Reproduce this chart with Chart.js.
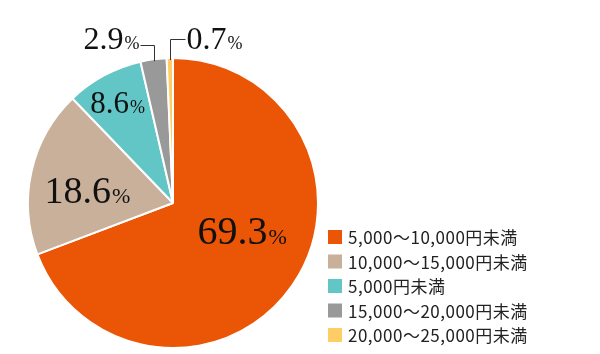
<!DOCTYPE html>
<html>
<head>
<meta charset="utf-8">
<script src="https://cdn.jsdelivr.net/npm/chart.js@4"></script>
<style>
  html, body { margin: 0; padding: 0; background: #fff; }
  #wrap { width: 600px; height: 354px; position: relative; }
</style>
</head>
<body>
<div id="wrap"><canvas id="chart"></canvas></div>
<script>
// data
const categories = ["5,000～10,000円未満", "10,000～15,000円未満", "5,000円未満", "15,000～20,000円未満", "20,000～25,000円未満"];
const shares = [69.3, 18.6, 8.6, 2.9, 0.7];
const colors = ["#EA5506", "#C8B09A", "#62C6C6", "#999999", "#FFCC66"];

// where the value labels go (angle in deg from +x, clockwise; dist as fraction of radius)
// callout labels sit above the pie with a bent leader line
const labelLayout = [
  { angle: 22, dist: 0.51, big: 40, small: 22 },
  { angle: 188.6, dist: 0.6, big: 38, small: 22 },
  { angle: 240.8, dist: 0.79, big: 31, small: 18 },
  { callout: "left", lineUp: 13, big: 32, small: 18 },
  { callout: "right", lineUp: 19, big: 32, small: 18 }
];

const serif = "'Liberation Serif', 'DejaVu Serif', serif";

const valueLabels = {
  id: "valueLabels",
  afterDatasetsDraw(chart) {
    const ctx = chart.ctx;
    const arcs = chart.getDatasetMeta(0).data;
    ctx.save();
    ctx.fillStyle = "#111";
    ctx.textBaseline = "alphabetic";
    arcs.forEach((arc, i) => {
      const lay = labelLayout[i];
      const num = shares[i].toFixed(1);
      ctx.font = lay.big + "px " + serif;
      const wNum = ctx.measureText(num).width;
      ctx.font = lay.small + "px " + serif;
      const wPct = ctx.measureText("%").width;
      const total = wNum + wPct;
      const r = arc.outerRadius;
      let x0, base;
      if (!lay.callout) {
        const a = lay.angle * Math.PI / 180;
        const cx = arc.x + Math.cos(a) * r * lay.dist;
        const cy = arc.y + Math.sin(a) * r * lay.dist;
        x0 = cx - total / 2;
        base = cy + lay.big * 0.33;
      } else {
        const mid = (arc.startAngle + arc.endAngle) / 2;
        const px = arc.x + Math.cos(mid) * (r - 2);
        const py = arc.y + Math.sin(mid) * (r - 2);
        const top = arc.y - r;
        const lineY = Math.round(top - lay.lineUp) + 0.5;
        const ex = Math.round(px) + 0.5;
        base = top - 9;
        ctx.strokeStyle = "#333";
        ctx.lineWidth = 1;
        ctx.beginPath();
        ctx.moveTo(ex, py);
        ctx.lineTo(ex, lineY);
        if (lay.callout === "left") {
          ctx.lineTo(ex - 14, lineY);
          x0 = ex - 16 - total;
        } else {
          ctx.lineTo(ex + 15, lineY);
          x0 = ex + 16;
        }
        ctx.stroke();
      }
      ctx.font = lay.big + "px " + serif;
      ctx.fillText(num, x0, base);
      ctx.font = lay.small + "px " + serif;
      ctx.fillText("%", x0 + wNum + 1, base);
    });
    ctx.restore();
  }
};

const sideLegend = {
  id: "sideLegend",
  afterDraw(chart) {
    const ctx = chart.ctx;
    const left = 328, top = 230, step = 24.5, box = 14;
    ctx.save();
    ctx.font = "17px 'Noto Sans CJK JP', 'Noto Sans', sans-serif";
    ctx.letterSpacing = "0.5px";
    ctx.textBaseline = "middle";
    categories.forEach((c, i) => {
      const y = top + i * step;
      ctx.fillStyle = colors[i];
      ctx.fillRect(left, y, box, box);
      ctx.fillStyle = "#222";
      ctx.fillText(c, left + box + 6, y + box / 2 + 1);
    });
    ctx.restore();
  }
};

new Chart(document.getElementById("chart"), {
  type: "pie",
  data: {
    labels: categories,
    datasets: [{
      data: shares,
      backgroundColor: colors,
      borderColor: "#fff",
      borderWidth: 2
    }]
  },
  options: {
    responsive: true,
    maintainAspectRatio: false,
    animation: false,
    layout: { padding: { top: 57, bottom: 5, left: 27, right: 281 } },
    plugins: {
      legend: { display: false },
      tooltip: { enabled: false }
    }
  },
  plugins: [valueLabels, sideLegend]
});
</script>
</body>
</html>
